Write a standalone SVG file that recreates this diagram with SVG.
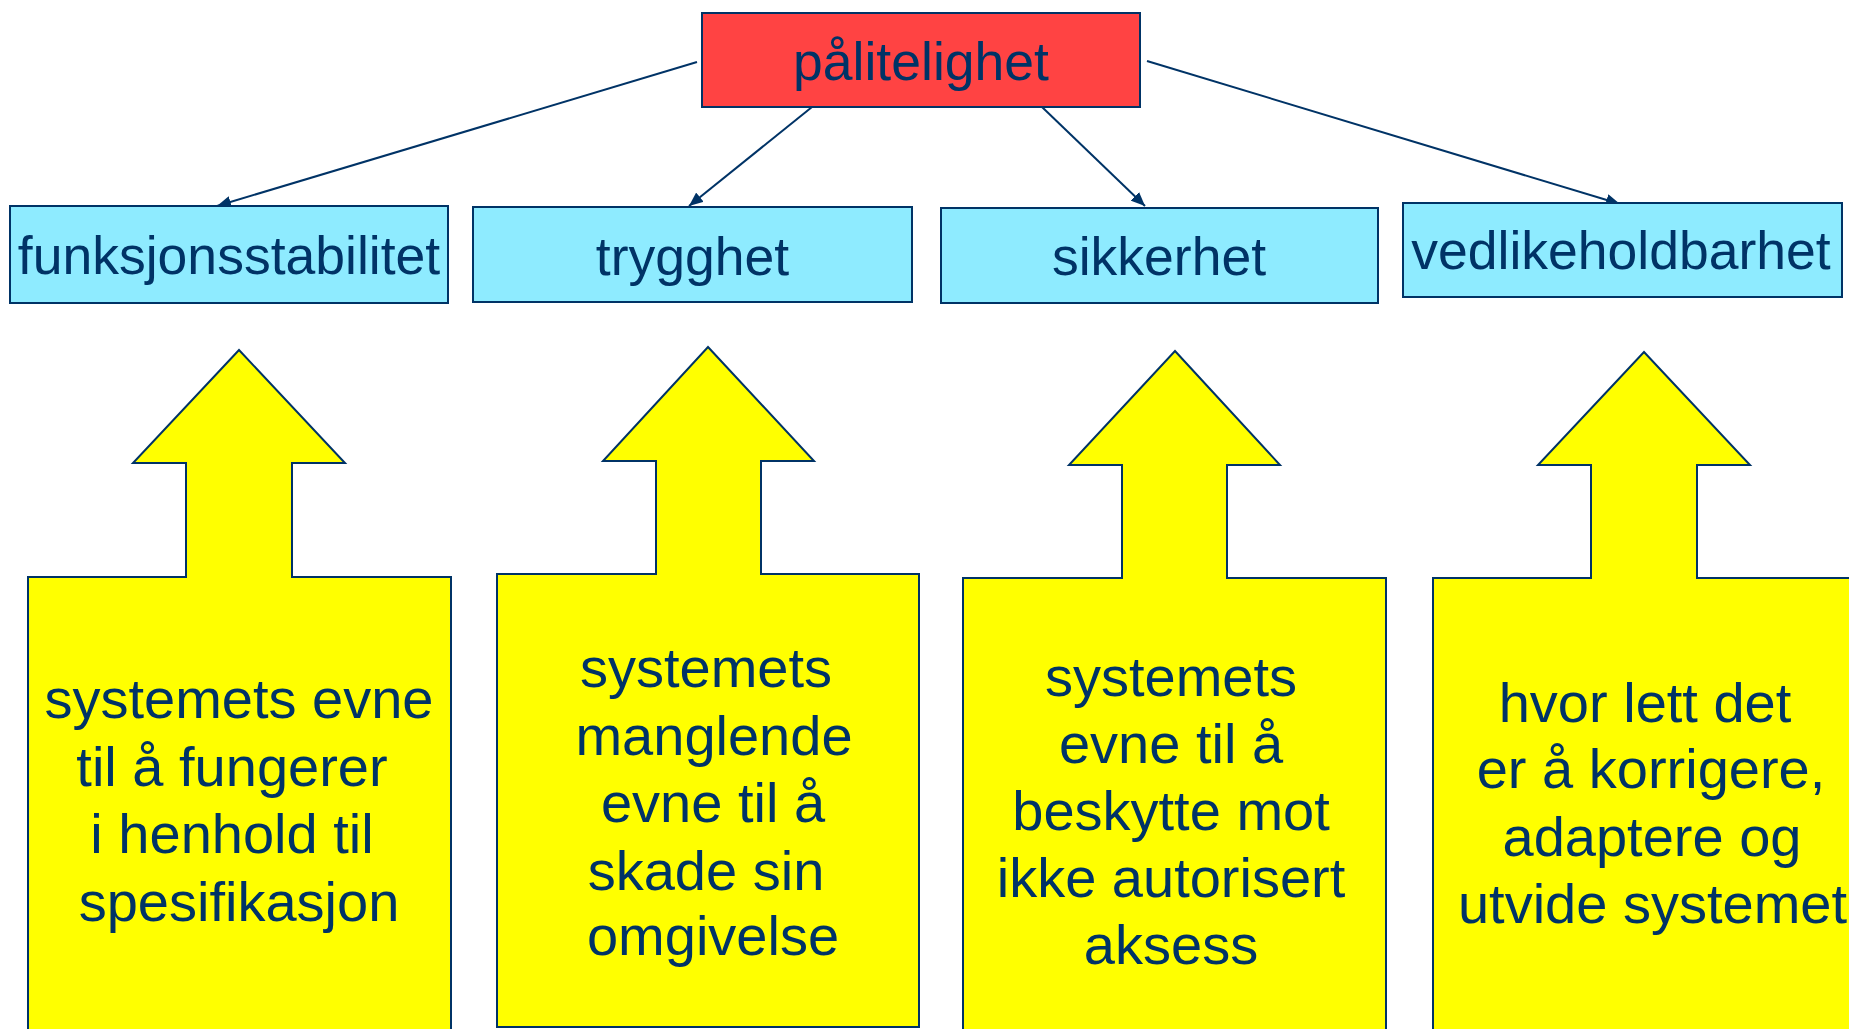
<svg xmlns="http://www.w3.org/2000/svg" width="1849" height="1029" viewBox="0 0 1849 1029">
<defs>
<style>
.t{font-family:"Liberation Sans",Arial,sans-serif;fill:#003366;text-anchor:middle}
.h{font-size:53.5px}
.b{font-size:56px}
.top{fill:#FF4343;stroke:#003366;stroke-width:2}
.cat{fill:#8EEBFF;stroke:#003366;stroke-width:2}
.up{fill:#FFFF00;stroke:#003366;stroke-width:2;stroke-linejoin:miter}
.c{stroke:#003366;stroke-width:2;fill:none}
</style>
<marker id="ah" viewBox="0 0 14 12" markerWidth="14" markerHeight="12" refX="14" refY="6" orient="auto" markerUnits="userSpaceOnUse">
<path d="M0,0 L14,6 L0,12 z" fill="#003366"/>
</marker>
</defs>
<rect width="1849" height="1029" fill="#FFFFFF"/>
<g id="connectors">
<line class="c" x1="697" y1="62" x2="217" y2="206" marker-end="url(#ah)"/>
<line class="c" x1="812" y1="107" x2="689" y2="206" marker-end="url(#ah)"/>
<line class="c" x1="1042" y1="107" x2="1145" y2="206" marker-end="url(#ah)"/>
<line class="c" x1="1147" y1="61" x2="1620" y2="204" marker-end="url(#ah)"/>
</g>
<g id="palitelighet">
<rect class="top" x="702" y="13" width="438" height="94"/>
<text class="t h" x="921" y="80">pålitelighet</text>
</g>
<g id="funksjonsstabilitet">
<rect class="cat" x="10" y="206" width="438" height="97"/>
<text class="t h" x="229" y="274">funksjonsstabilitet</text>
</g>
<g id="trygghet">
<rect class="cat" x="473" y="207" width="439" height="95"/>
<text class="t h" x="692.5" y="275">trygghet</text>
</g>
<g id="sikkerhet">
<rect class="cat" x="941" y="208" width="437" height="95"/>
<text class="t h" x="1159" y="275">sikkerhet</text>
</g>
<g id="vedlikeholdbarhet">
<rect class="cat" x="1403" y="203" width="439" height="94"/>
<text class="t h" x="1621" y="269">vedlikeholdbarhet</text>
</g>
<g id="arrow-funksjonsstabilitet">
<path class="up" d="M239,350 L345,463 L292,463 L292,577 L451,577 L451,1040 L28,1040 L28,577 L186,577 L186,463 L133,463 Z"/>
<text class="t b" x="239" y="718">systemets evne</text>
<text class="t b" x="232" y="786">til å fungerer</text>
<text class="t b" x="232" y="853">i henhold til</text>
<text class="t b" x="239" y="921">spesifikasjon</text>
</g>
<g id="arrow-trygghet">
<path class="up" d="M708,347 L814,461 L761,461 L761,574 L919,574 L919,1027 L497,1027 L497,574 L656,574 L656,461 L603,461 Z"/>
<text class="t b" x="706" y="687">systemets</text>
<text class="t b" x="714" y="755">manglende</text>
<text class="t b" x="713" y="822">evne til å</text>
<text class="t b" x="706" y="890">skade sin</text>
<text class="t b" x="713" y="955">omgivelse</text>
</g>
<g id="arrow-sikkerhet">
<path class="up" d="M1175,351 L1280,465 L1227,465 L1227,578 L1386,578 L1386,1040 L963,1040 L963,578 L1122,578 L1122,465 L1069,465 Z"/>
<text class="t b" x="1171" y="696">systemets</text>
<text class="t b" x="1171" y="763">evne til å</text>
<text class="t b" x="1171" y="830">beskytte mot</text>
<text class="t b" x="1171" y="897">ikke autorisert</text>
<text class="t b" x="1171" y="964">aksess</text>
</g>
<g id="arrow-vedlikeholdbarhet">
<path class="up" d="M1644,352 L1750,465 L1697,465 L1697,578 L1860,578 L1860,1040 L1433,1040 L1433,578 L1591,578 L1591,465 L1538,465 Z"/>
<text class="t b" x="1645" y="722">hvor lett det</text>
<text class="t b" x="1651" y="788">er å korrigere,</text>
<text class="t b" x="1652" y="856">adaptere og</text>
<text class="t b" x="1652.5" y="923">utvide systemet</text>
</g>
</svg>
